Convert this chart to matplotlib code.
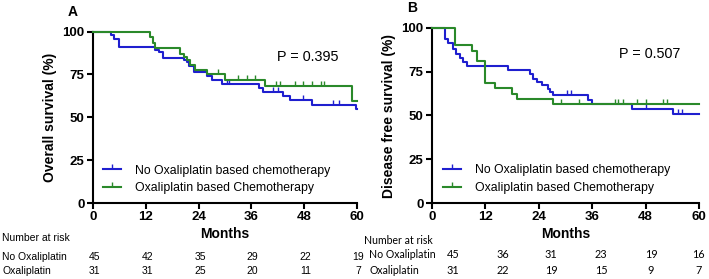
import numpy as np
import matplotlib
matplotlib.use("Agg")
import matplotlib.pyplot as plt
from matplotlib.lines import Line2D
from matplotlib.transforms import blended_transform_factory

plt.rcParams['font.family'] = ['Liberation Sans', 'DejaVu Sans']

# ---------------- data ----------------
# Panel A: overall survival (step curves: event times in months, survival %)
a_blue_t = [0, 4.0, 4.8, 6.0, 14.1, 14.9, 15.8, 20.7, 21.3, 21.9, 23.0, 25.8, 27.0, 29.4, 37.7, 38.7, 43.2, 44.8, 49.7, 59.8, 60]
a_blue_s = [100, 97.8, 95.6, 91.1, 89.5, 88.0, 84.4, 83.3, 82.0, 80.0, 76.2, 74.0, 71.8, 69.6, 66.9, 64.7, 62.4, 59.9, 57.0, 54.7, 54.7]
a_blue_cens = [30.4, 30.9, 40.8, 42.0, 47.8, 54.6, 55.8]

a_green_t = [0, 13.0, 13.6, 14.1, 19.8, 20.7, 21.3, 22.1, 23.2, 26.0, 30.0, 39.1, 58.8, 60]
a_green_s = [100, 96.8, 93.5, 90.3, 87.1, 85.0, 83.1, 80.6, 77.8, 75.2, 71.9, 68.3, 59.2, 59.2]
a_green_cens = [28.4, 33.0, 34.9, 36.8, 41.7, 42.5, 45.9, 47.8, 49.7, 51.8, 52.6]

# Panel B: disease free survival
b_blue_t = [0, 2.9, 3.7, 4.8, 5.5, 6.3, 7.0, 7.9, 17.1, 22.0, 22.8, 23.7, 24.7, 26.0, 26.5, 27.3, 35.1, 35.9, 44.9, 54.1, 60]
b_blue_s = [100, 93.9, 91.6, 87.8, 85.3, 82.9, 80.6, 78.3, 76.2, 73.9, 71.0, 69.1, 67.2, 65.3, 63.4, 61.7, 58.9, 56.4, 53.5, 50.7, 50.7]
b_blue_cens = [30.3, 31.2, 48.2, 55.3, 56.1]

b_green_t = [0, 5.2, 9.1, 10.0, 11.9, 14.2, 17.9, 19.0, 27.3, 60]
b_green_s = [100, 90.3, 87.1, 81.0, 68.8, 65.5, 62.3, 59.2, 56.4, 56.4]
b_green_cens = [29.1, 33.1, 41.1, 41.9, 43.0, 46.0, 48.1, 52.0, 52.9]

labels = ["No Oxaliplatin based chemotherapy", "Oxaliplatin based Chemotherapy"]
p_values = ["P = 0.395", "P = 0.507"]
ylabels = ["Overall survival (%)", "Disease free survival (%)"]
panel_letters = ["A", "B"]
xticks = [0, 12, 24, 36, 48, 60]
yticks = [0, 25, 50, 75, 100]

risk_months = [0, 12, 24, 36, 48, 60]
risk_rows = ["No Oxaliplatin", "Oxaliplatin"]
a_risk_no = [45, 42, 35, 29, 22, 19]
a_risk_ox = [31, 31, 25, 20, 11, 7]
b_risk_no = [45, 36, 31, 23, 19, 16]
b_risk_ox = [31, 22, 19, 15, 9, 7]

BLUE = '#1f1fcf'
GREEN = '#2a892a'

W, H = 709, 279
fig = plt.figure(figsize=(W / 100, H / 100), dpi=100)


def fx(px):
    return px / W


def fy(py):
    return 1 - py / H


def step_val(t, s, x):
    idx = np.searchsorted(np.asarray(t), x, side='right') - 1
    return np.asarray(s)[idx]


def draw_panel(ax, curves, ylabel, ptext, letter, leg_anchor):
    for (t, s, cens, col) in curves:
        ax.step(t, s, where='post', color=col, lw=1.5, clip_on=False, zorder=3)
        cy = [step_val(t, s, c) for c in cens]
        ax.plot(cens, cy, linestyle='none', marker=2, markersize=3.5, mew=1.0,
                color=col, clip_on=False, zorder=3)
    ax.set_xlim(0, 60)
    ax.set_ylim(0, 100)
    ax.set_xticks(xticks)
    ax.set_yticks(yticks)
    ax.set_yticklabels(['0', '25', '50', '75', '100'])
    for sp in ['top', 'right']:
        ax.spines[sp].set_visible(False)
    for sp in ['left', 'bottom']:
        ax.spines[sp].set_linewidth(1.5)
    ax.tick_params(axis='both', direction='out', length=4, width=1.5, pad=2,
                   labelsize=9.5)
    for lab in ax.get_xticklabels() + ax.get_yticklabels():
        lab.set_fontweight('bold')
    ax.set_ylabel(ylabel, fontsize=10, fontweight='bold', labelpad=4)
    ax.set_xlabel("Months", fontsize=10, fontweight='bold', labelpad=3)
    ax.text(48.85, 85.3, ptext, fontsize=10.4, ha='center', va='center')
    handles = [Line2D([0], [0], color=c[3], lw=1.5, marker=2, markersize=3.5, mew=1.0)
               for c in curves]
    ax.legend(handles, labels, loc='center left', bbox_to_anchor=leg_anchor,
              frameon=False, fontsize=8.8, handlelength=1.5, handletextpad=1.1,
              labelspacing=0.45, borderpad=0, borderaxespad=0, numpoints=1)


axA = fig.add_axes([fx(93), fy(203), fx(357 - 93), (203 - 31.5) / H])
draw_panel(axA, [(a_blue_t, a_blue_s, a_blue_cens, BLUE),
                 (a_green_t, a_green_s, a_green_cens, GREEN)],
           ylabels[0], p_values[0], panel_letters[0], (0.038, 0.138))

axB = fig.add_axes([fx(432), fy(203), fx(699 - 432), (203 - 28) / H])
draw_panel(axB, [(b_blue_t, b_blue_s, b_blue_cens, BLUE),
                 (b_green_t, b_green_s, b_green_cens, GREEN)],
           ylabels[1], p_values[1], panel_letters[1], (0.041, 0.136))

# panel letters
fig.text(fx(73), fy(12), panel_letters[0], fontsize=10, fontweight='bold', ha='center', va='center')
fig.text(fx(412), fy(7.5), panel_letters[1], fontsize=10, fontweight='bold', ha='center', va='center')

# risk table A (Arial-like)
trA = blended_transform_factory(axA.transData, fig.transFigure)
fig.text(fx(2.5), fy(238), "Number at risk", fontsize=7.5, ha='left', va='center')
fig.text(fx(2.5), fy(256.7), risk_rows[0], fontsize=7.5, ha='left', va='center')
fig.text(fx(2.5), fy(271), risk_rows[1], fontsize=7.5, ha='left', va='center')
for m, n1, n2 in zip(risk_months, a_risk_no, a_risk_ox):
    axA.text(m + 0.3, fy(256.7), str(n1), transform=trA, fontsize=7.5, ha='center', va='center')
    axA.text(m + 0.3, fy(271), str(n2), transform=trA, fontsize=7.5, ha='center', va='center')

# risk table B (Calibri-like)
fB = ['Lato', 'DejaVu Sans']
fig.text(fx(364), fy(240), "Number at risk", fontsize=7.6, family=fB, ha='left', va='center')
fig.text(fx(369), fy(255), risk_rows[0], fontsize=7.6, family=fB, ha='left', va='center')
fig.text(fx(369), fy(270), risk_rows[1], fontsize=7.6, family=fB, ha='left', va='center')
b_cols_px = [453, 502.5, 551, 601, 651, 698.5]
for xp, n1, n2 in zip(b_cols_px, b_risk_no, b_risk_ox):
    fig.text(fx(xp), fy(255), str(n1), fontsize=7.8, family=fB, ha='center', va='center')
    fig.text(fx(xp), fy(270), str(n2), fontsize=7.8, family=fB, ha='center', va='center')

fig.savefig("out.png", dpi=100)
